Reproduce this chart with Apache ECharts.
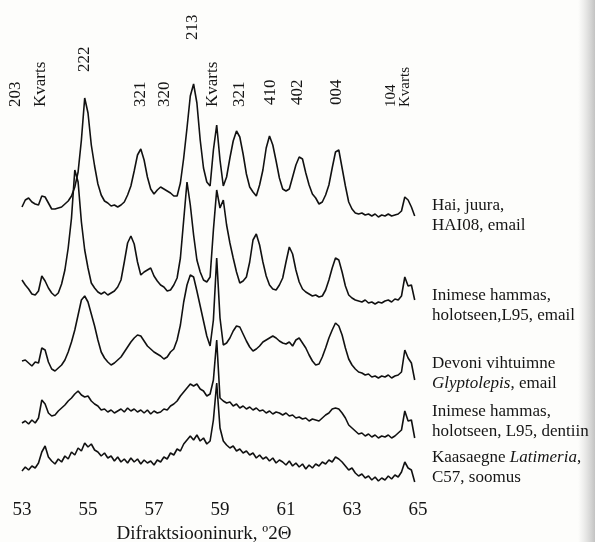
<!DOCTYPE html>
<html>
<head>
<meta charset="utf-8">
<script src="https://cdn.jsdelivr.net/npm/echarts@6/dist/echarts.min.js"></script>
<style>
  html, body { margin: 0; padding: 0; background: #fdfdfb; }
  #main { width: 595px; height: 542px; }
</style>
</head>
<body>
<div id="main"></div>
<script>
// 2θ sampling of the scans (degrees)
const twoThetaStart = 53.0
const twoThetaStep = 0.1
const axisTicks = [53, 55, 57, 59, 61, 63, 65]

// intensities (arbitrary units, traces already stacked with offsets)
const haiJuura = [
  283, 290, 292, 288, 286, 285, 294, 293, 287, 281,
  281, 282, 283, 286, 289, 294, 303, 318, 350, 392,
  377, 345, 324, 306, 295, 289, 287, 284, 285, 283,
  285, 288, 295, 304, 319, 335, 341, 330, 313, 301,
  296, 300, 303, 301, 299, 297, 294, 294, 307, 332,
  362, 394, 406, 387, 350, 322, 308, 304, 340, 365,
  330, 304, 313, 332, 349, 359, 353, 336, 316, 303,
  298, 294, 305, 320, 342, 354, 345, 329, 312, 301,
  299, 301, 313, 325, 333, 331, 317, 305, 296, 292,
  286, 288, 295, 305, 322, 338, 340, 322, 304, 288,
  281, 277, 276, 277, 275, 276, 274, 276, 273, 275,
  274, 276, 274, 275, 276, 279, 293, 290, 283, 274
]
const inimeseEmail = [
  210, 205, 201, 196, 195, 199, 214, 209, 202, 197,
  194, 197, 206, 220, 242, 272, 320, 308, 268, 240,
  222, 207, 202, 198, 196, 198, 195, 197, 199, 203,
  210, 228, 247, 254, 246, 228, 215, 218, 220, 222,
  214, 209, 205, 203, 199, 200, 205, 212, 232, 270,
  308, 285, 255, 230, 218, 210, 208, 213, 260, 300,
  282, 290, 265, 247, 232, 218, 207, 209, 213, 228,
  250, 256, 245, 228, 214, 205, 201, 200, 205, 212,
  228, 243, 236, 220, 208, 201, 198, 196, 194, 195,
  193, 194, 200, 210, 222, 232, 230, 218, 204, 195,
  192, 190, 189, 188, 190, 187, 188, 186, 188, 187,
  189, 190, 188, 191, 190, 194, 213, 204, 205, 190
]
const devoniGlyptolepis = [
  129, 130, 127, 124, 128, 127, 142, 140, 128, 121,
  119, 122, 125, 130, 138, 148, 160, 175, 190, 194,
  188, 176, 164, 150, 138, 132, 128, 125, 127, 130,
  133, 138, 143, 148, 152, 155, 154, 149, 144, 141,
  138, 136, 134, 131, 133, 138, 141, 150, 165, 188,
  205, 215, 213, 199, 184, 169, 154, 144, 170, 232,
  172, 145, 147, 152, 159, 164, 163, 156, 149, 143,
  139, 141, 144, 148, 150, 152, 154, 152, 149, 147,
  146, 148, 144, 150, 152, 147, 142, 135, 129, 125,
  126, 133, 142, 152, 160, 167, 164, 155, 142, 131,
  125, 121, 118, 117, 115, 116, 113, 114, 112, 114,
  113, 115, 112, 114, 115, 118, 140, 132, 127, 110
]
const inimeseDentiin = [
  67, 69, 66, 70, 67, 72, 90, 86, 77, 74,
  75, 79, 82, 85, 89, 92, 96, 99, 95, 93,
  94, 89, 86, 84, 80, 81, 78, 80, 77, 79,
  81, 78, 82, 79, 81, 78, 80, 77, 80, 76,
  79, 77, 78, 81, 80, 84, 86, 89, 94, 98,
  102, 106, 104, 106, 101, 99, 94, 96, 110, 150,
  92, 89, 87, 88, 84, 86, 82, 84, 81, 83,
  80, 82, 79, 80, 77, 79, 76, 78, 77, 75,
  77, 74, 75, 72, 73, 71, 72, 69, 71, 70,
  69, 72, 75, 77, 81, 82, 81, 77, 72, 65,
  62, 59, 56, 57, 54, 56, 53, 55, 52, 54,
  53, 55, 52, 54, 57, 60, 79, 69, 70, 52
]
const latimeria = [
  19, 23, 20, 24, 22, 27, 38, 44, 33, 29,
  26, 31, 28, 34, 31, 38, 35, 42, 39, 47,
  43, 46, 40, 38, 34, 37, 32, 34, 29, 33,
  28, 31, 27, 32, 28, 31, 26, 30, 27, 29,
  25, 30, 28, 33, 31, 37, 35, 41, 39, 46,
  50, 54, 50, 55, 49, 52, 46, 49, 70, 107,
  62, 49, 45, 42, 44, 39, 41, 37, 39, 35,
  37, 32, 35, 31, 33, 29, 32, 27, 30, 28,
  25, 29, 24, 27, 23, 26, 21, 25, 22, 26,
  24, 28, 26, 30, 28, 33, 31, 28, 24, 20,
  22, 17, 14, 16, 12, 14, 10, 13, 9, 12,
  10, 14, 11, 15, 13, 18, 28, 22, 20, 8
]

// reflection labels: text and 2θ position
const peakNames = ['203', 'Kvarts', '222', '321', '320', '213', 'Kvarts', '321', '410', '402', '004', '104', 'Kvarts']
const peakAngles = [52.80, 53.55, 54.88, 56.58, 57.33, 58.17, 58.77, 59.59, 60.52, 61.36, 62.53, 64.18, 64.62]

const sampleNames = [
  'Hai, juura,\nHAI08, email',
  'Inimese hammas,\nholotseen,L95, email',
  'Devoni vihtuimne\n{i|Glyptolepis}, email',
  'Inimese hammas,\nholotseen, L95, dentiin',
  'Kaasaegne {i|Latimeria},\nC57, soomus'
]

const serif = "'Liberation Serif', 'DejaVu Serif', serif"

const toPairs = vals => vals.map((v, i) => [+(twoThetaStart + i * twoThetaStep).toFixed(2), v])

const traces = [haiJuura, inimeseEmail, devoniGlyptolepis, inimeseDentiin, latimeria]

const chart = echarts.init(document.getElementById('main'))

chart.setOption({
  animation: false,
  backgroundColor: '#fdfdfb',
  grid: { left: 22, right: 177, top: 0, bottom: 52, outerBoundsMode: 'none', containLabel: false },
  xAxis: {
    type: 'value',
    min: axisTicks[0],
    max: axisTicks[axisTicks.length - 1],
    interval: 2,
    axisLine: { show: false },
    axisTick: { show: false },
    splitLine: { show: false },
    axisLabel: {
      margin: 11,
      fontSize: 19,
      fontFamily: serif,
      color: '#151515',
      showMinLabel: true,
      showMaxLabel: true
    },
    name: 'Difraktsiooninurk, º2Θ',
    nameLocation: 'middle',
    nameGap: 34,
    nameTextStyle: {
      fontSize: 19,
      fontFamily: serif,
      color: '#151515',
      padding: [0, 32, 0, 0]
    }
  },
  yAxis: { type: 'value', min: 0, max: 490, show: false },
  series: traces.map(t => ({
    type: 'line',
    data: toPairs(t),
    showSymbol: false,
    silent: true,
    lineStyle: { color: '#111', width: 1.6 }
  }))
})

// labels placed after the grid exists so x follows the 2θ scale
const peakBase = [107, 107, 72, 107, 107, 40, 107, 107, 105, 105, 105, 107, 107]
const sampleTop = [196, 286, 354, 402, 448]

const graphics = peakNames.map((name, i) => ({
  type: 'text',
  x: chart.convertToPixel({ gridIndex: 0 }, [peakAngles[i], 0])[0],
  y: peakBase[i],
  rotation: Math.PI / 2,
  silent: true,
  style: {
    text: name,
    fontSize: i >= 11 ? 15 : 17,
    fontFamily: serif,
    fill: '#151515',
    align: 'left',
    verticalAlign: 'middle',
    textAlign: 'left',
    textVerticalAlign: 'middle'
  }
}))

sampleNames.forEach((name, i) => {
  graphics.push({
    type: 'text',
    x: 432,
    y: sampleTop[i],
    silent: true,
    z: 10,
    style: {
      text: name,
      fontSize: 17,
      lineHeight: 20,
      fontFamily: serif,
      fill: '#151515',
      align: 'left',
      verticalAlign: 'top',
      textAlign: 'left',
      textVerticalAlign: 'top',
      rich: {
        i: { fontStyle: 'italic', fontSize: 17, lineHeight: 20, fontFamily: serif, fill: '#151515' }
      }
    }
  })
})

// scanner shadow at the page edge
graphics.push({
  type: 'rect',
  silent: true,
  z: 1,
  shape: { x: 578, y: 0, width: 17, height: 542 },
  style: {
    fill: new echarts.graphic.LinearGradient(0, 0, 1, 0, [
      { offset: 0, color: 'rgba(200,200,200,0)' },
      { offset: 1, color: 'rgba(175,175,175,0.75)' }
    ])
  }
})

chart.setOption({ graphic: graphics })
</script>
</body>
</html>
